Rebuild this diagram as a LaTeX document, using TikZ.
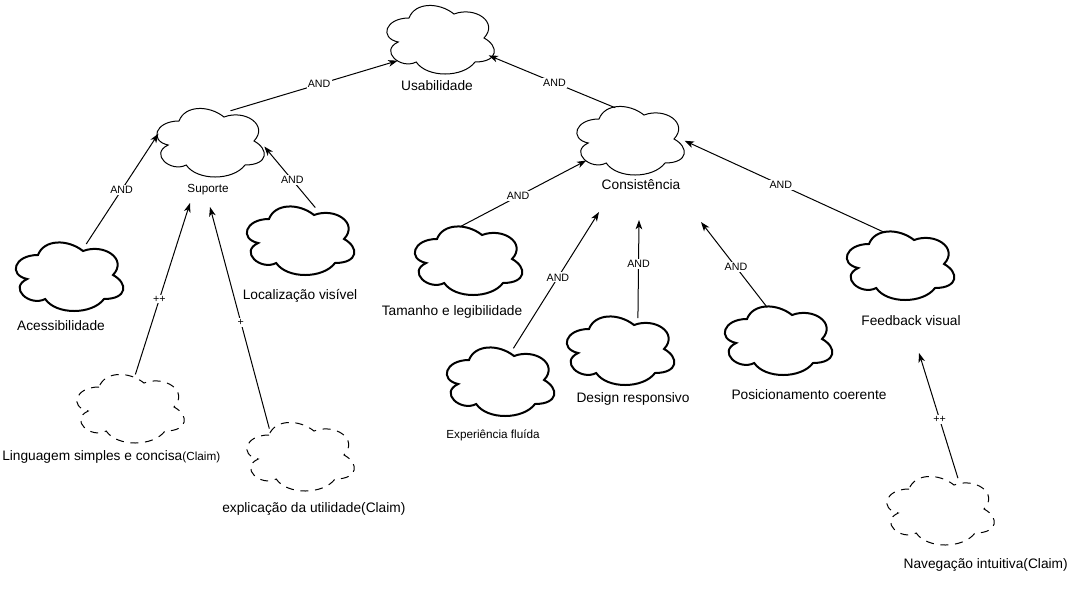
\documentclass[tikz,border=0pt]{standalone}
\usepackage{fontspec}
\setmainfont{Liberation Sans}
\usetikzlibrary{arrows.meta,shapes.geometric}

% outline of one cloud, in a 1x1 box (y downwards)
\newcommand{\cloudpath}{(0.25,0.25) .. controls (0.05,0.25) and (0,0.5) .. (0.16,0.55)
  .. controls (0,0.66) and (0.18,0.9) .. (0.31,0.8)
  .. controls (0.4,1) and (0.7,1) .. (0.8,0.8)
  .. controls (1,0.8) and (1,0.6) .. (0.875,0.5)
  .. controls (1,0.3) and (0.8,0.1) .. (0.625,0.2)
  .. controls (0.5,0.05) and (0.3,0.05) .. (0.25,0.25) -- cycle}
% cloud in a 120x80 box at (x,y), with a named node over it
\newcommand{\cloudnode}[4][leaf]{%
  \begin{scope}[shift={(#3,#4)}, x=90pt, y=-60pt]
    \draw[#1] \cloudpath;
    \node[cloudarea] (#2) at (0.513,0.522) {};
  \end{scope}}

\begin{document}
\begin{tikzpicture}[x=0.75pt, y=-0.75pt,
    hub/.style={line width=0.75pt},
    leaf/.style={line width=1.5pt},
    claim/.style={line width=0.75pt, dash pattern=on 6pt off 5pt},
    cloudarea/.style={ellipse, draw=none, inner sep=0pt, minimum width=80.7pt, minimum height=51.3pt},
    lbl/.style={inner sep=0pt, font=\fontsize{10.3}{12}\selectfont},
    lblsmall/.style={inner sep=0pt, font=\fontsize{8.8}{10}\selectfont},
    edgelbl/.style={fill=white, inner sep=1pt, font=\fontsize{8}{9}\selectfont},
    link/.style={line width=0.75pt, -{Stealth[length=7pt, width=5pt, inset=2pt]}}]
    \useasboundingbox (0,0) rectangle (1069,601);

    % Clouds
    \cloudnode[hub]{usab}{379}{-2}
    \cloudnode[hub]{sup}{149}{101}
    \cloudnode[hub]{cons}{569}{99}
    \cloudnode{acess}{8}{235}
    \cloudnode{loc}{239}{199}
    \cloudnode{tam}{407}{219}
    \cloudnode{feed}{839}{224}
    \cloudnode{exper}{439}{340}
    \cloudnode{design}{559}{309}
    \cloudnode{posic}{717}{299}
    \cloudnode[claim]{ling}{69}{367}
    \cloudnode[claim]{expl}{239}{415}
    \cloudnode[claim]{nav}{879}{469}

    % Labels
    \node[lbl] (usab-l) at (437,86) {Usabilidade};
    \node[lblsmall] (sup-l) at (208,190) {Suporte};
    \node[lbl] (cons-l) at (641,185) {Consistência};
    \node[lbl] (acess-l) at (61,326) {Acessibilidade};
    \node[lbl] (loc-l) at (300,296) {Localização visível};
    \node[lbl] (tam-l) at (452,312) {Tamanho e legibilidade};
    \node[lbl] (feed-l) at (911,321) {Feedback visual};
    \node[lblsmall] (exper-l) at (493,435) {Experiência fluída};
    \node[lbl] (design-l) at (633,399) {Design responsivo};
    \node[lbl] (posic-l) at (809,395) {Posicionamento coerente};
    \node[lbl, anchor=west] (ling-l) at (2,457) {Linguagem simples e concisa{\fontsize{8.8}{10}\selectfont(Claim)}};
    \node[lbl, anchor=west] (expl-l) at (222,509) {explicação da utilidade(Claim)};
    \node[lbl, anchor=east] (nav-l) at (1068,565) {Navegação intuitiva(Claim)};

    % Free ends below the labels
    \coordinate (sup-a) at (190,203);
    \coordinate (sup-b) at (210,207);
    \coordinate (cons-a) at (599,212);
    \coordinate (cons-b) at (639,220);
    \coordinate (cons-c) at (701,222);
    \coordinate (feed-a) at (919,353);

    % Links
    \draw[link] (sup.58) -- (usab.206) node[edgelbl, pos=0.53] {AND};
    \draw[link] (cons.115) -- (usab.342) node[edgelbl, pos=0.48] {AND};
    \draw[link] (acess.63) -- (sup.170) node[edgelbl, pos=0.49] {AND};
    \draw[link] (loc.66) -- (sup.356) node[edgelbl, pos=0.45] {AND};
    \draw[link] (ling.82) -- (sup-a) node[edgelbl, pos=0.44] {++};
    \draw[link] (expl.138) -- (sup-b) node[edgelbl, pos=0.48] {+};
    \draw[link] (tam.104) -- (cons.204) node[edgelbl, pos=0.46] {AND};
    \draw[link] (exper.69) -- (cons-a) node[edgelbl, pos=0.52] {AND};
    \draw[link] (design.62) -- (cons-b) node[edgelbl, pos=0.55] {AND};
    \draw[link] (posic.109) -- (cons-c) node[edgelbl, pos=0.47] {AND};
    \draw[link] (feed.115) -- (cons.0) node[edgelbl, pos=0.52] {AND};
    \draw[link] (nav.62) -- (feed-a) node[edgelbl, pos=0.47] {++};
\end{tikzpicture}
\end{document}
